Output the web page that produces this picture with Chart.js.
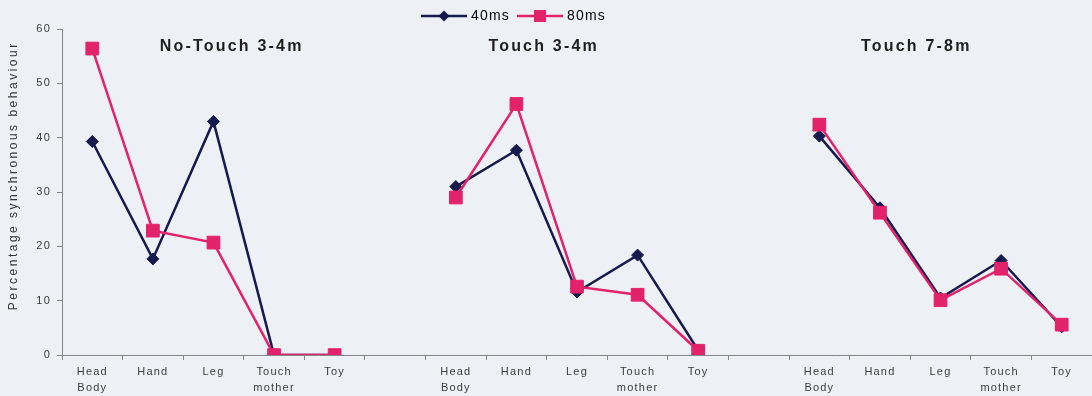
<!DOCTYPE html>
<html lang="en">
<head>
    <meta charset="UTF-8">
    <title>Percentage synchronous behaviour</title>
    <script src="https://cdn.jsdelivr.net/npm/chart.js@4.4.0/dist/chart.umd.min.js"></script>
    <style>
        body { margin: 0; background: #edf0f5; }
    </style>
</head>
<body>
    <canvas id="myChart" width="1092" height="396"></canvas>
    <script>
        // behaviours shown under each panel, three panels side by side
        const behaviours = [['Head', 'Body'], 'Hand', 'Leg', ['Touch', 'mother'], 'Toy'];
        const panels = ['No-Touch 3-4m', 'Touch 3-4m', 'Touch 7-8m'];
        const seriesNames = ['40ms', '80ms'];
        const values40 = [
            [39.3, 17.7, 43.0, 0, 0],
            [31.0, 37.7, 11.6, 18.4, 0.9],
            [40.3, 27.1, 10.5, 17.4, 5.2]
        ];
        const values80 = [
            [56.4, 22.9, 20.7, 0, 0],
            [29.0, 46.2, 12.6, 11.1, 0.8],
            [42.4, 26.2, 10.1, 15.9, 5.6]
        ];
        const yTitle = 'Percentage synchronous behaviour';

        const navy = '#161a4c';
        const pink = '#e3226c';

        // flatten the panels into one category axis, one empty slot between panels
        const labels = [];
        const data40 = [];
        const data80 = [];
        panels.forEach((p, i) => {
            if (i > 0) {
                labels.push('');
                data40.push(null);
                data80.push(null);
            }
            behaviours.forEach((b, j) => {
                labels.push(b);
                data40.push(values40[i][j]);
                data80.push(values80[i][j]);
            });
        });

        // little line+marker pictures for the legend
        function legendIcon(color, shape) {
            const c = document.createElement('canvas');
            c.width = 46;
            c.height = 14;
            const g = c.getContext('2d');
            g.strokeStyle = color;
            g.fillStyle = color;
            g.lineWidth = 2.5;
            g.beginPath();
            g.moveTo(0, 7);
            g.lineTo(46, 7);
            g.stroke();
            if (shape === 'diamond') {
                g.beginPath();
                g.moveTo(23, 1.5);
                g.lineTo(28.5, 7);
                g.lineTo(23, 12.5);
                g.lineTo(17.5, 7);
                g.closePath();
                g.fill();
            } else {
                g.fillRect(17, 1, 12, 12);
            }
            return c;
        }
        const icons = [legendIcon(navy, 'diamond'), legendIcon(pink, 'square')];

        // panel titles sit roughly over these category positions
        const titleAt = [2.3, 7.45, 13.6];

        const decor = {
            id: 'decor',
            beforeLayout(chart) {
                chart.ctx.letterSpacing = '1.2px';
            },
            afterLayout(chart) {
                const lg = chart.legend;
                lg.right -= 62;
                lg.top += 4;
            },
            beforeDraw(chart) {
                const { ctx, width, height } = chart;
                ctx.save();
                ctx.fillStyle = '#edf0f5';
                ctx.fillRect(0, 0, width, height);
                ctx.restore();
                ctx.letterSpacing = '1.2px';
            },
            afterDraw(chart) {
                const { ctx, scales: { x, y } } = chart;
                ctx.save();
                ctx.textAlign = 'center';
                ctx.textBaseline = 'middle';
                ctx.fillStyle = '#1e1e1e';
                ctx.font = 'bold 16px "Liberation Sans", Arial, sans-serif';
                ctx.letterSpacing = '2.2px';
                panels.forEach((t, i) => {
                    ctx.fillText(t, x.getPixelForValue(titleAt[i]), y.getPixelForValue(56.8));
                });
                ctx.translate(14, y.getPixelForValue(33));
                ctx.rotate(-Math.PI / 2);
                ctx.fillStyle = '#333';
                ctx.font = '12px "Liberation Sans", Arial, sans-serif';
                ctx.letterSpacing = '2.5px';
                ctx.fillText(yTitle, 0, 0);
                ctx.restore();
            }
        };

        Chart.defaults.font.family = '"Liberation Sans", Arial, sans-serif';

        const ctx = document.getElementById('myChart').getContext('2d');
        new Chart(ctx, {
            type: 'line',
            data: {
                labels: labels,
                datasets: [{
                    label: seriesNames[0],
                    data: data40,
                    borderColor: navy,
                    backgroundColor: navy,
                    borderWidth: 2.5,
                    pointStyle: 'rectRot',
                    pointRadius: 6,
                    pointBorderWidth: 1,
                    order: 1
                }, {
                    label: seriesNames[1],
                    data: data80,
                    borderColor: pink,
                    backgroundColor: pink,
                    borderWidth: 2.5,
                    pointStyle: 'rect',
                    pointRadius: 9,
                    pointBorderWidth: 1,
                    order: 0
                }]
            },
            options: {
                responsive: false,
                animation: false,
                layout: { autoPadding: false, padding: { top: -5, bottom: -4, left: 0, right: 0 } },
                plugins: {
                    tooltip: { enabled: false },
                    legend: {
                        position: 'top',
                        labels: {
                            usePointStyle: true,
                            pointStyleWidth: 40,
                            padding: 10,
                            color: '#333',
                            font: { size: 14 },
                            generateLabels: chart => chart.data.datasets.map((ds, i) => ({
                                text: ds.label,
                                pointStyle: icons[i],
                                fillStyle: ds.borderColor,
                                strokeStyle: ds.borderColor,
                                lineWidth: 0,
                                hidden: false,
                                datasetIndex: i
                            }))
                        }
                    }
                },
                scales: {
                    x: {
                        offset: true,
                        grid: { drawOnChartArea: false, offset: true, tickLength: 5, color: '#858585' },
                        border: { color: '#858585' },
                        ticks: {
                            autoSkip: false,
                            maxRotation: 0,
                            padding: 4,
                            color: '#3c3c3c',
                            font: { size: 11, lineHeight: 1.45 }
                        }
                    },
                    y: {
                        min: 0,
                        max: 60,
                        afterFit: s => { s.width = 62; },
                        grid: { drawOnChartArea: false, tickLength: 5, color: '#858585' },
                        border: { color: '#858585' },
                        ticks: { stepSize: 10, padding: 6, color: '#3c3c3c', font: { size: 11 } }
                    }
                }
            },
            plugins: [decor]
        });
    </script>
</body>
</html>
